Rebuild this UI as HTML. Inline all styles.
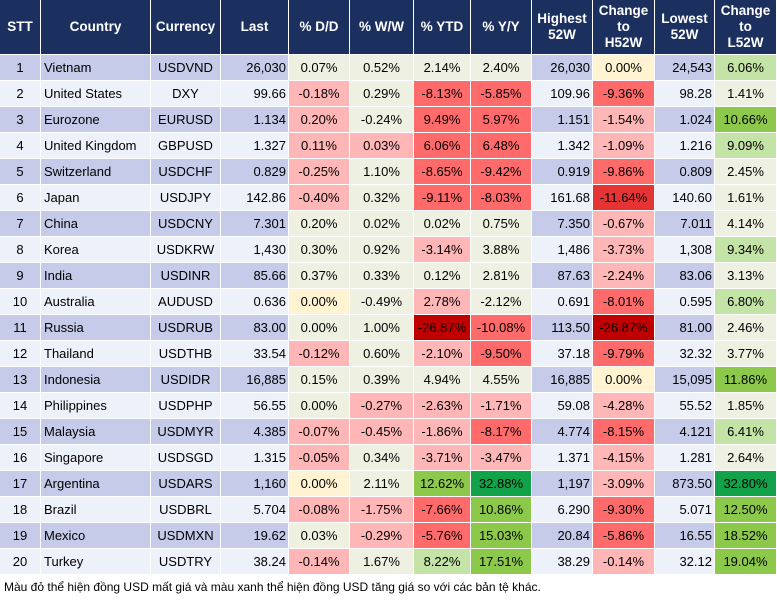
<!DOCTYPE html>
<html><head><meta charset="utf-8">
<style>
body{margin:0;width:777px;height:602px;background:#fff;position:relative;overflow:hidden;font-family:"Liberation Sans",Arial,sans-serif;}
#tbl{position:absolute;left:0;top:0;width:777px;height:576px;}
.c{position:absolute;box-sizing:border-box;font-size:13px;color:#000;line-height:25px;white-space:nowrap;overflow:hidden;}
.h{background:#1c3060;color:#fff;font-weight:bold;display:flex;align-items:center;justify-content:center;text-align:center;line-height:16px;font-size:13.5px;}
#note{position:absolute;left:4px;top:580px;font-size:12px;color:#000;font-family:"Liberation Sans","DejaVu Sans",sans-serif;}
</style></head><body>
<div id="tbl"></div>
<div id="note">Màu đỏ thể hiện đồng USD mất giá và màu xanh thể hiện đồng USD tăng giá so với các bản tệ khác.</div>
<script>
const headers=["STT","Country","Currency","Last","% D/D","% W/W","% YTD","% Y/Y","Highest<br>52W","Change<br>to<br>H52W","Lowest<br>52W","Change<br>to<br>L52W"];
const countries=["Vietnam","United States","Eurozone","United Kingdom","Switzerland","Japan","China","Korea","India","Australia","Russia","Thailand","Indonesia","Philippines","Malaysia","Singapore","Argentina","Brazil","Mexico","Turkey"];
const currencies=["USDVND","DXY","EURUSD","GBPUSD","USDCHF","USDJPY","USDCNY","USDKRW","USDINR","AUDUSD","USDRUB","USDTHB","USDIDR","USDPHP","USDMYR","USDSGD","USDARS","USDBRL","USDMXN","USDTRY"];
const inverted=[false,false,true,true,false,false,false,false,false,true,false,false,false,false,false,false,false,false,false,false];
const last=["26,030","99.66","1.134","1.327","0.829","142.86","7.301","1,430","85.66","0.636","83.00","33.54","16,885","56.55","4.385","1.315","1,160","5.704","19.62","38.24"];
const dd=[0.07,-0.18,0.20,0.11,-0.25,-0.40,0.20,0.30,0.37,0.00,0.001,-0.12,0.15,0.001,-0.07,-0.05,0.00,-0.08,0.03,-0.14];
const ww=[0.52,0.29,-0.24,0.03,1.10,0.32,0.02,0.92,0.33,-0.49,1.00,0.60,0.39,-0.27,-0.45,0.34,2.11,-1.75,-0.29,1.67];
const ytd=[2.14,-8.13,9.49,6.06,-8.65,-9.11,0.02,-3.14,0.12,2.78,-26.87,-2.10,4.94,-2.63,-1.86,-3.71,12.62,-7.66,-5.76,8.22];
const yy=[2.40,-5.85,5.97,6.48,-9.42,-8.03,0.75,3.88,2.81,-2.12,-10.08,-9.50,4.55,-1.71,-8.17,-3.47,32.88,10.86,15.03,17.51];
const high=["26,030","109.96","1.151","1.342","0.919","161.68","7.350","1,486","87.63","0.691","113.50","37.18","16,885","59.08","4.774","1.371","1,197","6.290","20.84","38.29"];
const chH=[0.00,-9.36,-1.54,-1.09,-9.86,-11.64,-0.67,-3.73,-2.24,-8.01,-26.87,-9.79,0.00,-4.28,-8.15,-4.15,-3.09,-9.30,-5.86,-0.14];
const low=["24,543","98.28","1.024","1.216","0.809","140.60","7.011","1,308","83.06","0.595","81.00","32.32","15,095","55.52","4.121","1.281","873.50","5.071","16.55","32.12"];
const chL=[6.06,1.41,10.66,9.09,2.45,1.61,4.14,9.34,3.13,6.80,2.46,3.77,11.86,1.85,6.41,2.64,32.80,12.50,18.52,19.04];

const colL=[0,41,151,221,289,350,414,471,532,593,655,715,777];
const top0=55,rowH=26;
function heat(v){
  if(v===0) return "#fff3d2";
  if(v<=-20) return "#c00000";
  if(v<=-10.5) return "#e63434";
  if(v<=-5) return "#ff6a6a";
  if(v<0) return "#ffb6b6";
  if(v<5) return "#eef1e2";
  if(v<10) return "#c4e3a6";
  if(v<30) return "#8cc94a";
  return "#12a24a";
}
const T=document.getElementById('tbl');
function cell(ci,y,h,bg,txt,align,cls,name){
  const d=document.createElement('div');
  d.className='c '+(cls||'');
  
  
  d.style.left=colL[ci]+'px';d.style.top=y+'px';
  d.style.width=(colL[ci+1]-colL[ci]-1)+'px';d.style.height=h+'px';
  d.style.background=bg;
  if(cls!=='h'){d.style.textAlign=align;d.style.padding=align==='right'?'0 2px 0 0':(align==='left'?'0 0 0 3px':'0');}
  d.innerHTML=txt;T.appendChild(d);
}
headers.forEach((h,i)=>cell(i,0,54,'#1c3060',h,'center','h','header-'+i));
const pct=v=>v.toFixed(2)+'%';
for(let r=0;r<20;r++){
  const y=top0+r*rowH, odd=r%2===0;
  const base=odd?'#c5cbe9':'#edf2fa';
  const s=inverted[r]?-1:1;
  cell(0,y,25,base,String(r+1),'center','','stt-'+(r+1));
  cell(1,y,25,base,countries[r],'left','','country-'+(r+1));
  cell(2,y,25,base,currencies[r],'center','','currency-'+(r+1));
  cell(3,y,25,base,last[r],'right','','last-'+(r+1));
  cell(4,y,25,heat(s*dd[r]),pct(dd[r]),'center','','dd-'+(r+1));
  cell(5,y,25,heat(s*ww[r]),pct(ww[r]),'center','','ww-'+(r+1));
  cell(6,y,25,heat(s*ytd[r]),pct(ytd[r]),'center','','ytd-'+(r+1));
  cell(7,y,25,heat(s*yy[r]),pct(yy[r]),'center','','yy-'+(r+1));
  cell(8,y,25,base,high[r],'right','','high52-'+(r+1));
  cell(9,y,25,heat(chH[r]),pct(chH[r]),'center','','change-h52-'+(r+1));
  cell(10,y,25,base,low[r],'right','','low52-'+(r+1));
  cell(11,y,25,heat(chL[r]),pct(chL[r]),'center','','change-l52-'+(r+1));
}
</script>
</body></html>
